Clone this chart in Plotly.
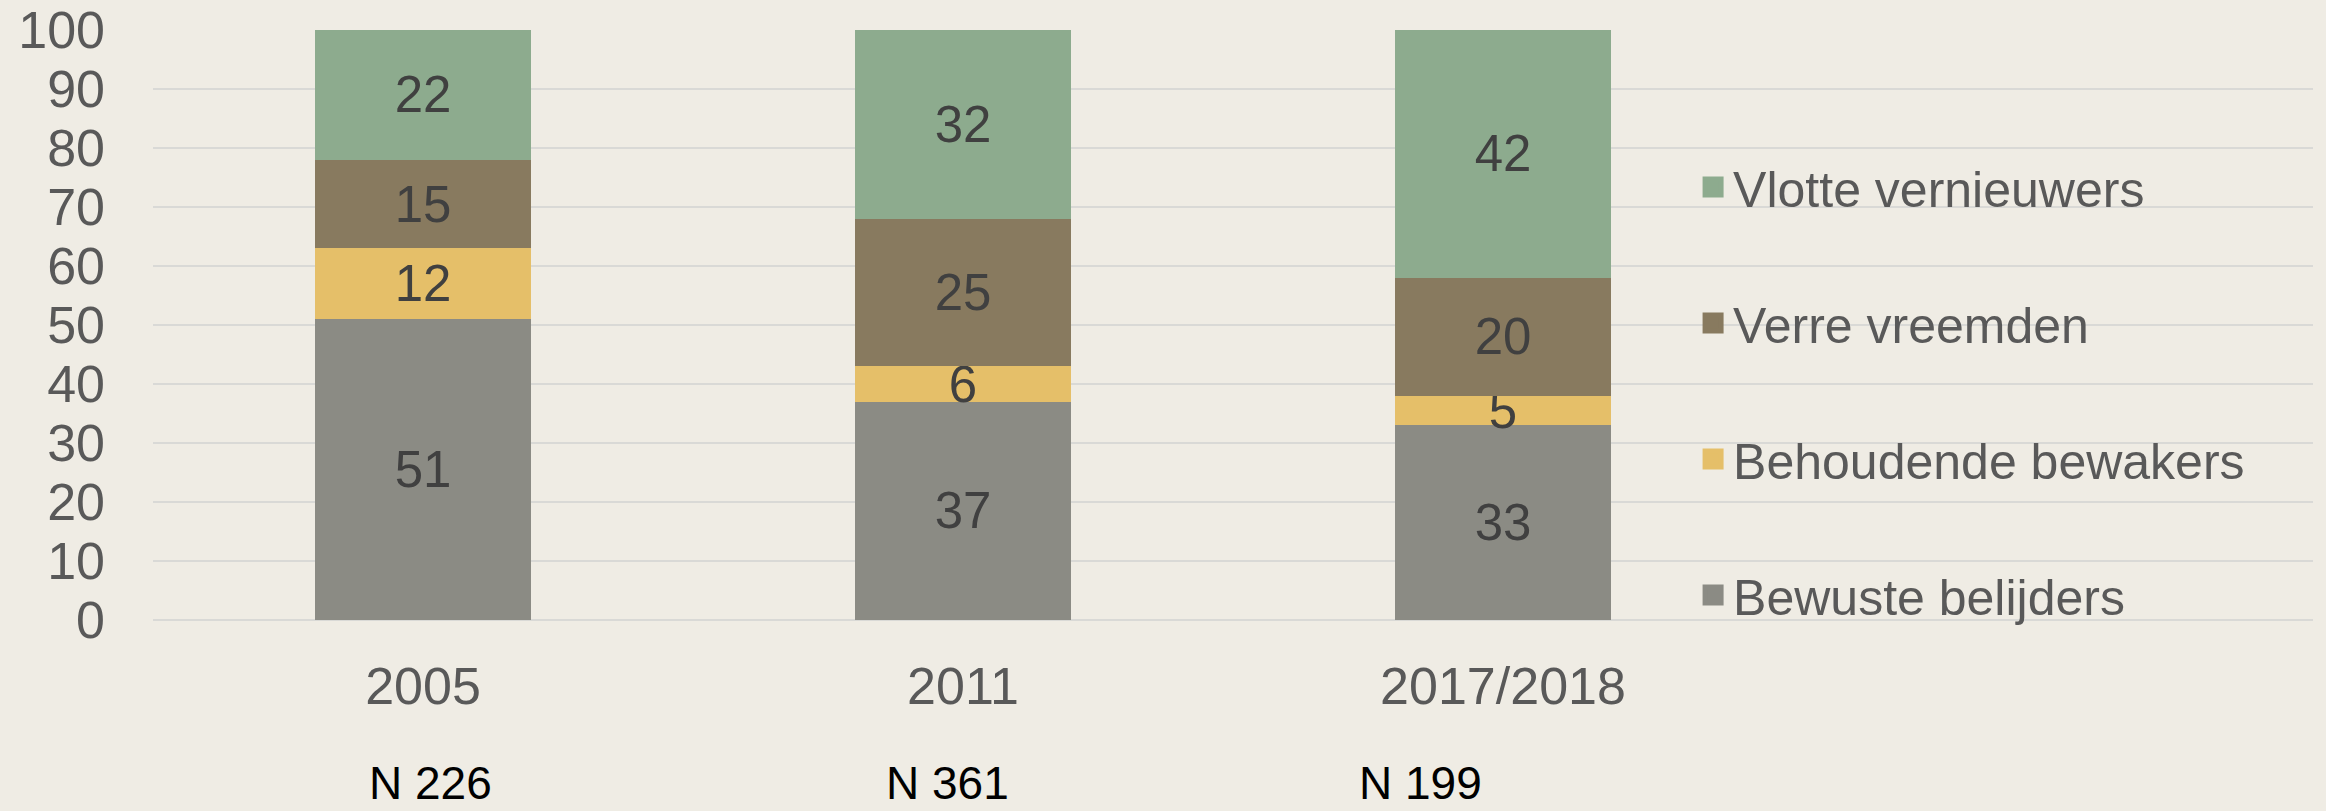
import plotly.graph_objects as go

# ---- data ----
years = ["2005", "2011", "2017/2018"]
bewuste_belijders = [51, 37, 33]
behoudende_bewakers = [12, 6, 5]
verre_vreemden = [15, 25, 20]
vlotte_vernieuwers = [22, 32, 42]
n_values = [226, 361, 199]

series_names = ["Bewuste belijders", "Behoudende bewakers", "Verre vreemden", "Vlotte vernieuwers"]
series_values = [bewuste_belijders, behoudende_bewakers, verre_vreemden, vlotte_vernieuwers]
series_colors = ["#8B8B84", "#E5BF69", "#887A5F", "#8DAB8E"]

# ---- style ----
FONT = "Liberation Sans, Arial, Helvetica, sans-serif"
BG = "#EFECE4"
GRID = "#D9D9D6"
n_label_shift = [7, -16, -83]

fig = go.Figure()
for name, vals, col in zip(series_names, series_values, series_colors):
    fig.add_trace(go.Bar(
        x=years, y=vals, name=name,
        marker=dict(color=col, line=dict(width=0)),
        texttemplate="%{y}", textposition="inside", insidetextanchor="middle",
        textangle=0, constraintext="none",
        textfont=dict(family=FONT, size=51, color="#404040"),
        showlegend=False, hoverinfo="skip",
    ))

# legend entries (top to bottom)
for name, col in reversed(list(zip(series_names, series_colors))):
    fig.add_trace(go.Scatter(
        x=[None], y=[None], mode="markers", name=name,
        legendgroup=name,
        marker=dict(symbol="square", size=16, color=col, line=dict(color=col, width=5)),
        showlegend=True, hoverinfo="skip",
    ))

for i, (n, sh) in enumerate(zip(n_values, n_label_shift)):
    fig.add_annotation(
        x=i, xref="x", y=-0.2755, yref="paper", yanchor="middle", xanchor="center",
        xshift=sh, text=f"N {n}", showarrow=False,
        font=dict(family=FONT, size=46, color="#000000"),
    )

fig.update_layout(
    width=2326, height=811,
    barmode="stack", bargap=0.6,
    paper_bgcolor=BG, plot_bgcolor=BG,
    margin=dict(l=153, r=13, t=30, b=191, autoexpand=False),
    font=dict(family=FONT, color="#595959"),
    legend=dict(
        x=0.713, xanchor="left", y=0.80, yanchor="top",
        traceorder="grouped", tracegroupgap=68,
        font=dict(family=FONT, size=50, color="#595959"),
        bgcolor="rgba(0,0,0,0)",
    ),
    xaxis=dict(
        type="category", categoryorder="array", categoryarray=years,
        range=[-0.5, 3.5], showgrid=False, zeroline=False, showline=False,
        ticks="", ticklabelstandoff=31, automargin=False,
        tickfont=dict(family=FONT, size=52, color="#595959"),
    ),
    yaxis=dict(
        range=[0, 100], dtick=10, tick0=0,
        showgrid=True, gridcolor=GRID, gridwidth=2,
        zeroline=True, zerolinecolor=GRID, zerolinewidth=2,
        showline=False, ticks="", ticklabelstandoff=47, automargin=False,
        tickfont=dict(family=FONT, size=52, color="#595959"),
    ),
)

fig.write_html(
    "out.html",
    config={"displayModeBar": False},
    post_script="document.body.style.margin='0';document.body.style.padding='0';document.body.style.overflow='hidden';document.body.style.background='" + BG + "';",
)
